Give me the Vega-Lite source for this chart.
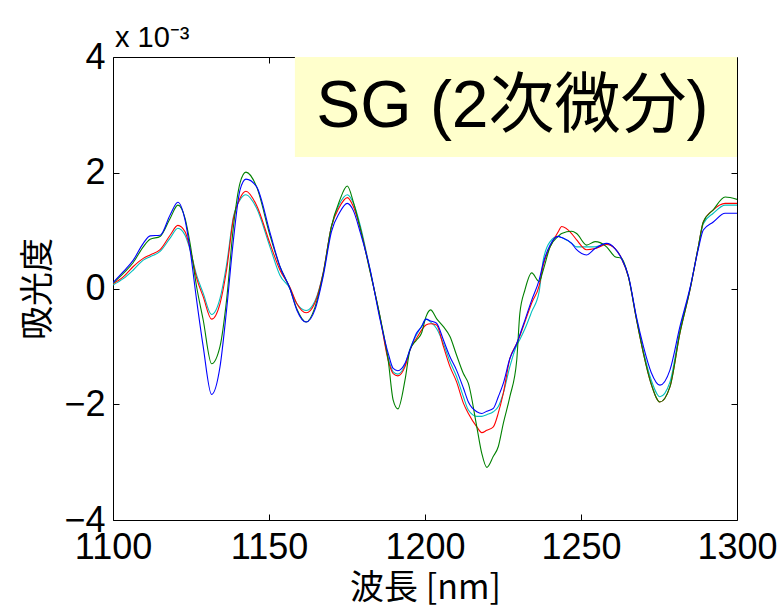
{
  "$schema": "https://vega.github.io/schema/vega-lite/v6.json",
  "width": 624,
  "height": 463,
  "autosize": {"type": "none"},
  "padding": {"left": 113, "top": 57, "right": 47, "bottom": 87},
  "background": "white",
  "title": {
    "text": "x 10⁻³",
    "anchor": "start",
    "frame": "group",
    "font": "Liberation Sans, sans-serif",
    "fontSize": 29,
    "fontWeight": "normal",
    "color": "black",
    "offset": 8,
    "dy": 22,
    "dx": 2
  },
  "config": {
    "view": {"stroke": "black", "strokeWidth": 1},
    "axis": {
      "grid": false,
      "domainColor": "black",
      "tickColor": "black",
      "labelColor": "black",
      "titleColor": "black",
      "labelFont": "Liberation Sans, sans-serif",
      "labelFontSize": 36,
      "labelFlush": false,
      "labelOverlap": false,
      "titleFont": "Noto Sans CJK JP",
      "titleFontSize": 34,
      "titleFontWeight": "normal",
      "tickSize": -6
    }
  },
  "layer": [
    {
      "data": {"values": [{"x1": 1158.3, "x2": 1300, "y1": 2.27, "y2": 4}]},
      "mark": {"type": "rect", "color": "#FFFFCC"},
      "encoding": {
        "x": {"field": "x1", "type": "quantitative", "scale": {"domain": [1100, 1300], "nice": false},
              "axis": {"orient": "top", "values": [1150, 1200, 1250], "labels": false, "title": null, "domain": false}},
        "x2": {"field": "x2"},
        "y": {"field": "y1", "type": "quantitative", "scale": {"domain": [-4, 4], "nice": false},
              "axis": {"orient": "right", "values": [-2, 0, 2], "labels": false, "title": null, "domain": false}},
        "y2": {"field": "y2"}
      }
    },
    {
      "data": {"values": [{"x": 1228, "y": 3.13, "t": "SG (2次微分)"}]},
      "mark": {"type": "text", "font": "Liberation Sans, Noto Sans CJK JP", "fontSize": 66, "color": "black", "align": "center", "baseline": "middle"},
      "encoding": {
        "x": {"field": "x", "type": "quantitative", "axis": null},
        "y": {"field": "y", "type": "quantitative", "axis": null},
        "text": {"field": "t"}
      }
    },
    {
      "data": {"values": [
        {"wl": 1100, "b": 0.10, "g": 0.09, "r": 0.08, "c": 0.06},
        {"wl": 1103.3, "b": 0.29, "g": 0.26, "r": 0.20, "c": 0.17},
        {"wl": 1106.5, "b": 0.49, "g": 0.45, "r": 0.38, "c": 0.32},
        {"wl": 1109.7, "b": 0.78, "g": 0.72, "r": 0.52, "c": 0.49},
        {"wl": 1111.9, "b": 0.91, "g": 0.85, "r": 0.58, "c": 0.55},
        {"wl": 1115.1, "b": 0.92, "g": 0.90, "r": 0.67, "c": 0.64},
        {"wl": 1118.3, "b": 1.27, "g": 1.21, "r": 0.92, "c": 0.87},
        {"wl": 1120.8, "b": 1.49, "g": 1.44, "r": 1.09, "c": 1.04},
        {"wl": 1123.1, "b": 1.18, "g": 1.21, "r": 0.98, "c": 0.92},
        {"wl": 1124.7, "b": 0.67, "g": 0.78, "r": 0.69, "c": 0.67},
        {"wl": 1126.8, "b": -0.20, "g": 0.03, "r": 0.18, "c": 0.23},
        {"wl": 1128.9, "b": -1.00, "g": -0.54, "r": -0.14, "c": -0.08},
        {"wl": 1131.6, "b": -1.83, "g": -1.30, "r": -0.53, "c": -0.45},
        {"wl": 1134.3, "b": -1.35, "g": -1.00, "r": -0.26, "c": -0.17},
        {"wl": 1136.4, "b": -0.37, "g": -0.20, "r": 0.32, "c": 0.41},
        {"wl": 1138.6, "b": 0.84, "g": 1.07, "r": 1.21, "c": 1.24},
        {"wl": 1140.7, "b": 1.70, "g": 1.82, "r": 1.56, "c": 1.53},
        {"wl": 1142.6, "b": 1.89, "g": 2.01, "r": 1.68, "c": 1.62},
        {"wl": 1146.0, "b": 1.76, "g": 1.76, "r": 1.44, "c": 1.39},
        {"wl": 1150.3, "b": 0.97, "g": 0.92, "r": 0.78, "c": 0.72},
        {"wl": 1153.5, "b": 0.38, "g": 0.38, "r": 0.32, "c": 0.23},
        {"wl": 1156.7, "b": 0.0, "g": 0.0, "r": 0.02, "c": 0.0},
        {"wl": 1158.9, "b": -0.37, "g": -0.35, "r": -0.26, "c": -0.26},
        {"wl": 1161.9, "b": -0.58, "g": -0.58, "r": -0.42, "c": -0.38},
        {"wl": 1164.7, "b": -0.37, "g": -0.33, "r": -0.25, "c": -0.22},
        {"wl": 1167.4, "b": 0.22, "g": 0.26, "r": 0.28, "c": 0.28},
        {"wl": 1170.0, "b": 0.98, "g": 1.07, "r": 1.07, "c": 1.07},
        {"wl": 1172.5, "b": 1.30, "g": 1.50, "r": 1.40, "c": 1.45},
        {"wl": 1175.1, "b": 1.47, "g": 1.77, "r": 1.57, "c": 1.62},
        {"wl": 1177.0, "b": 1.35, "g": 1.50, "r": 1.42, "c": 1.48},
        {"wl": 1179.2, "b": 0.98, "g": 1.05, "r": 1.05, "c": 1.10},
        {"wl": 1182.4, "b": 0.33, "g": 0.29, "r": 0.30, "c": 0.32},
        {"wl": 1185.6, "b": -0.54, "g": -0.49, "r": -0.50, "c": -0.50},
        {"wl": 1188.2, "b": -1.12, "g": -1.24, "r": -1.24, "c": -1.20},
        {"wl": 1189.8, "b": -1.38, "g": -1.93, "r": -1.47, "c": -1.44},
        {"wl": 1191.3, "b": -1.42, "g": -2.08, "r": -1.51, "c": -1.48},
        {"wl": 1193.6, "b": -1.29, "g": -1.58, "r": -1.35, "c": -1.32},
        {"wl": 1195.2, "b": -1.06, "g": -1.06, "r": -1.06, "c": -1.04},
        {"wl": 1197.3, "b": -0.77, "g": -0.89, "r": -0.86, "c": -0.80},
        {"wl": 1198.9, "b": -0.66, "g": -0.77, "r": -0.72, "c": -0.65},
        {"wl": 1200.3, "b": -0.53, "g": -0.49, "r": -0.63, "c": -0.53},
        {"wl": 1201.8, "b": -0.56, "g": -0.37, "r": -0.61, "c": -0.58},
        {"wl": 1203.7, "b": -0.60, "g": -0.52, "r": -0.63, "c": -0.69},
        {"wl": 1205.9, "b": -0.89, "g": -0.66, "r": -1.00, "c": -0.95},
        {"wl": 1208.0, "b": -1.18, "g": -0.83, "r": -1.35, "c": -1.26},
        {"wl": 1210.1, "b": -1.41, "g": -1.15, "r": -1.61, "c": -1.52},
        {"wl": 1212.3, "b": -1.72, "g": -1.47, "r": -1.98, "c": -1.87},
        {"wl": 1213.9, "b": -1.96, "g": -1.64, "r": -2.16, "c": -2.10},
        {"wl": 1216.6, "b": -2.13, "g": -2.39, "r": -2.39, "c": -2.21},
        {"wl": 1218.2, "b": -2.16, "g": -2.85, "r": -2.49, "c": -2.21},
        {"wl": 1219.8, "b": -2.12, "g": -3.09, "r": -2.45, "c": -2.18},
        {"wl": 1221.9, "b": -2.07, "g": -2.90, "r": -2.39, "c": -2.13},
        {"wl": 1223.5, "b": -1.87, "g": -2.73, "r": -2.15, "c": -2.04},
        {"wl": 1225.1, "b": -1.64, "g": -2.33, "r": -1.81, "c": -1.81},
        {"wl": 1227.2, "b": -1.21, "g": -1.87, "r": -1.21, "c": -1.35},
        {"wl": 1229.4, "b": -0.95, "g": -1.24, "r": -0.95, "c": -0.98},
        {"wl": 1230.4, "b": -0.80, "g": -0.43, "r": -0.82, "c": -0.88},
        {"wl": 1232.0, "b": -0.55, "g": -0.03, "r": -0.58, "c": -0.70},
        {"wl": 1234.2, "b": -0.20, "g": 0.27, "r": -0.25, "c": -0.40},
        {"wl": 1236.6, "b": 0.15, "g": 0.12, "r": 0.05, "c": -0.05},
        {"wl": 1237.9, "b": 0.44, "g": 0.32, "r": 0.40, "c": 0.49},
        {"wl": 1240.1, "b": 0.75, "g": 0.72, "r": 0.72, "c": 0.81},
        {"wl": 1242.7, "b": 0.90, "g": 0.90, "r": 0.98, "c": 0.90},
        {"wl": 1243.8, "b": 0.88, "g": 0.95, "r": 1.07, "c": 0.88},
        {"wl": 1247.0, "b": 0.78, "g": 0.99, "r": 0.95, "c": 0.78},
        {"wl": 1248.6, "b": 0.67, "g": 0.95, "r": 0.84, "c": 0.72},
        {"wl": 1251.8, "b": 0.58, "g": 0.75, "r": 0.67, "c": 0.72},
        {"wl": 1254.5, "b": 0.69, "g": 0.81, "r": 0.69, "c": 0.72},
        {"wl": 1258.2, "b": 0.78, "g": 0.72, "r": 0.76, "c": 0.77},
        {"wl": 1260.9, "b": 0.69, "g": 0.55, "r": 0.69, "c": 0.69},
        {"wl": 1263.0, "b": 0.52, "g": 0.52, "r": 0.52, "c": 0.52},
        {"wl": 1265.2, "b": 0.22, "g": 0.20, "r": 0.20, "c": 0.20},
        {"wl": 1267.8, "b": -0.50, "g": -0.54, "r": -0.54, "c": -0.52},
        {"wl": 1270.0, "b": -1.00, "g": -1.12, "r": -1.12, "c": -1.08},
        {"wl": 1272.5, "b": -1.45, "g": -1.65, "r": -1.65, "c": -1.58},
        {"wl": 1275.3, "b": -1.67, "g": -1.96, "r": -1.96, "c": -1.87},
        {"wl": 1278.5, "b": -1.41, "g": -1.70, "r": -1.70, "c": -1.62},
        {"wl": 1281.7, "b": -0.66, "g": -0.77, "r": -0.77, "c": -0.72},
        {"wl": 1284.9, "b": 0.0, "g": -0.03, "r": -0.03, "c": -0.02},
        {"wl": 1287.6, "b": 0.68, "g": 0.72, "r": 0.72, "c": 0.72},
        {"wl": 1289.2, "b": 1.01, "g": 1.15, "r": 1.15, "c": 1.12},
        {"wl": 1292.4, "b": 1.15, "g": 1.36, "r": 1.36, "c": 1.30},
        {"wl": 1296.2, "b": 1.30, "g": 1.58, "r": 1.47, "c": 1.44},
        {"wl": 1300, "b": 1.30, "g": 1.54, "r": 1.47, "c": 1.44}
      ]},
      "transform": [{"fold": ["c", "r", "g", "b"], "as": ["series", "value"]}],
      "mark": {"type": "line", "strokeWidth": 1.1, "clip": true, "interpolate": "monotone"},
      "encoding": {
        "x": {"field": "wl", "type": "quantitative", "scale": {"domain": [1100, 1300], "nice": false},
              "axis": {"values": [1100, 1150, 1200, 1250, 1300], "format": "d", "title": "波長 [nm]", "labelPadding": 16, "titlePadding": 6, "domain": false}},
        "y": {"field": "value", "type": "quantitative", "scale": {"domain": [-4, 4], "nice": false},
              "axis": {"values": [-4, -2, 0, 2, 4], "format": "d", "title": "吸光度", "labelPadding": 14, "titlePadding": 8, "domain": false}},
        "color": {"field": "series", "type": "nominal", "legend": null,
                  "scale": {"domain": ["b", "g", "r", "c"], "range": ["#0000FF", "#008000", "#FF0000", "#00BFBF"]}},
        "order": {"field": "wl", "type": "quantitative"}
      }
    }
  ],
  "resolve": {"axis": {"x": "independent", "y": "independent"}}
}
